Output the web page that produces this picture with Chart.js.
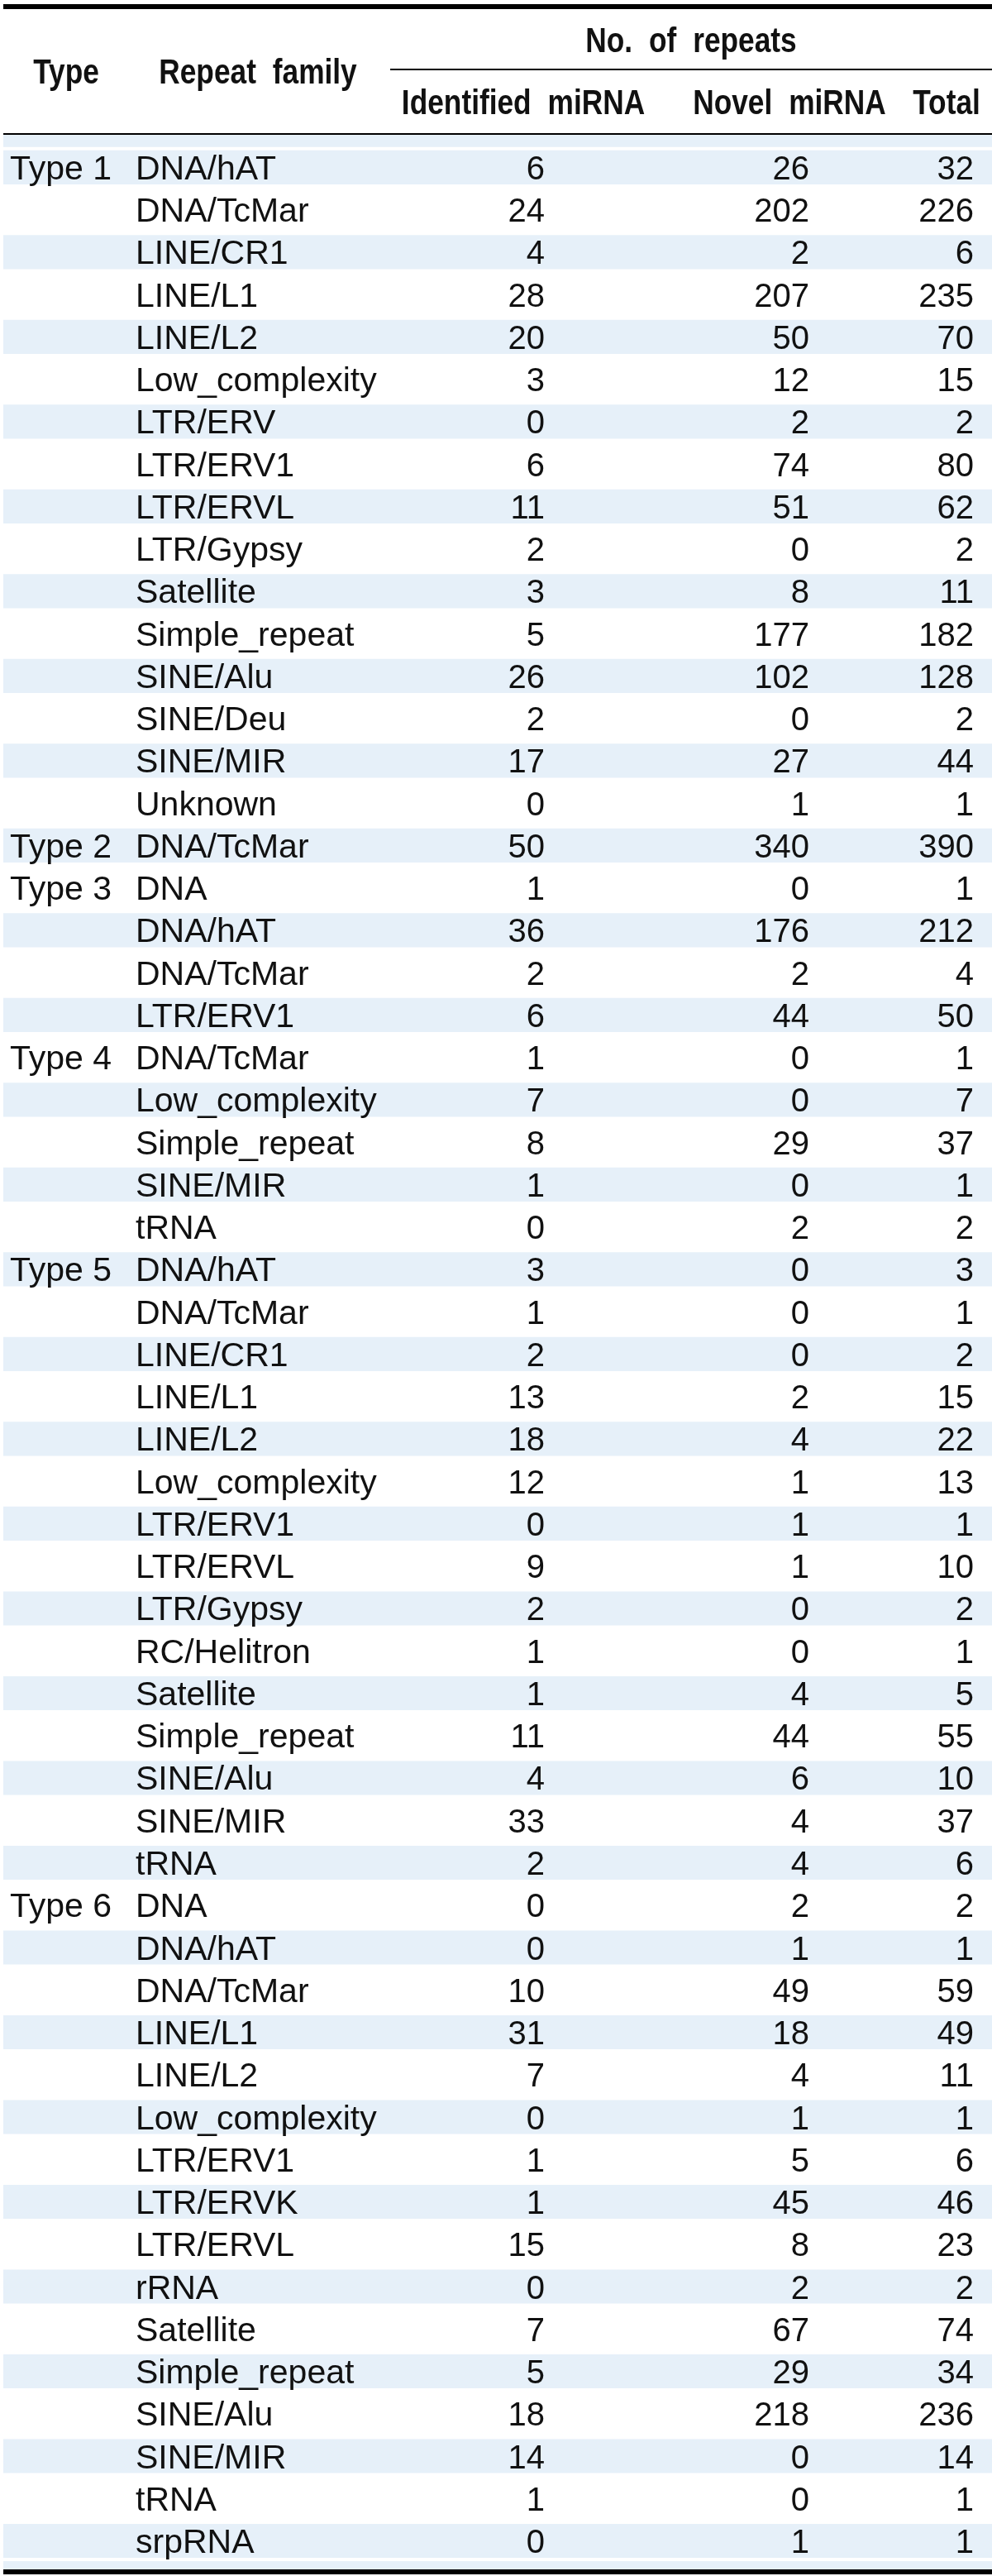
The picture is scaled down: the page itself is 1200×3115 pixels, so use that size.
<!DOCTYPE html>
<html><head><meta charset="utf-8">
<script src="https://cdn.jsdelivr.net/npm/chart.js@4.4.1/dist/chart.umd.min.js"></script>
<style>html,body{margin:0;padding:0;background:#fff;}canvas{display:block;}</style>
</head><body>
<canvas id="c" width="1200" height="3115"></canvas>
<script>
// ---------- data ----------
const rowType = ["Type 1","","","","","","","","","","","","","","","",
  "Type 2",
  "Type 3","","","",
  "Type 4","","","","",
  "Type 5","","","","","","","","","","","","","","",
  "Type 6","","","","","","","","","","","","","","",""];
const families = ["DNA/hAT","DNA/TcMar","LINE/CR1","LINE/L1","LINE/L2","Low_complexity","LTR/ERV","LTR/ERV1","LTR/ERVL","LTR/Gypsy","Satellite","Simple_repeat","SINE/Alu","SINE/Deu","SINE/MIR","Unknown",
  "DNA/TcMar",
  "DNA","DNA/hAT","DNA/TcMar","LTR/ERV1",
  "DNA/TcMar","Low_complexity","Simple_repeat","SINE/MIR","tRNA",
  "DNA/hAT","DNA/TcMar","LINE/CR1","LINE/L1","LINE/L2","Low_complexity","LTR/ERV1","LTR/ERVL","LTR/Gypsy","RC/Helitron","Satellite","Simple_repeat","SINE/Alu","SINE/MIR","tRNA",
  "DNA","DNA/hAT","DNA/TcMar","LINE/L1","LINE/L2","Low_complexity","LTR/ERV1","LTR/ERVK","LTR/ERVL","rRNA","Satellite","Simple_repeat","SINE/Alu","SINE/MIR","tRNA","srpRNA"];
const identified = [6,24,4,28,20,3,0,6,11,2,3,5,26,2,17,0,
  50,
  1,36,2,6,
  1,7,8,1,0,
  3,1,2,13,18,12,0,9,2,1,1,11,4,33,2,
  0,0,10,31,7,0,1,1,15,0,7,5,18,14,1,0];
const novel = [26,202,2,207,50,12,2,74,51,0,8,177,102,0,27,1,
  340,
  0,176,2,44,
  0,0,29,0,2,
  0,0,0,2,4,1,1,1,0,0,4,44,6,4,4,
  2,1,49,18,4,1,5,45,8,2,67,29,218,0,0,1];
const totals = [32,226,6,235,70,15,2,80,62,2,11,182,128,2,44,1,
  390,
  1,212,4,50,
  1,7,37,1,2,
  3,1,2,15,22,13,1,10,2,1,5,55,10,37,6,
  2,1,59,49,11,1,6,46,23,2,74,34,236,14,1,1];
const leftHeaders = ["Type","Repeat family"];
const groupHeader = "No. of repeats";
const colHeaders = ["Identified miRNA","Novel miRNA","Total"];

// ---------- style / layout ----------
const BAND = "#e6f0f9";
const INK = "#111";
const LABEL_FONT = "41px 'Liberation Sans', Arial, sans-serif";
const NUM_FONT = "40px 'Liberation Sans', Arial, sans-serif";
const HEAD_FONT = "bold 42px 'Liberation Sans', Arial, sans-serif";
const HEAD_SQUEEZE = 0.84;
const X_MIN = 4, X_MAX = 1200;
const COL = { type: 12, family: 164, numRight: [659, 979, 1178] };
const HEAD_X = { type: 80, family: 312, groupFrom: 472, cols: [633, 955, 1145] };
const PAD_TOP_ROWS = 0.288, PAD_BOTTOM_ROWS = 0.175;

function drawHead(ctx, text, cx, baseline) {
  ctx.save();
  ctx.font = HEAD_FONT;
  if ('wordSpacing' in ctx) ctx.wordSpacing = '12px';
  ctx.textAlign = 'center';
  ctx.textBaseline = 'alphabetic';
  ctx.translate(cx, baseline);
  ctx.scale(HEAD_SQUEEZE, 1);
  ctx.fillText(text, 0, 0);
  ctx.restore();
}

const tablePlugin = {
  id: 'tablePlugin',
  beforeDatasetsDraw(chart) {
    const ctx = chart.ctx, ys = chart.scales.y, xs = chart.scales.x, a = chart.chartArea;
    const n = families.length;
    ctx.save();
    ctx.fillStyle = BAND;
    const l = xs.getPixelForValue(X_MIN), r = xs.getPixelForValue(X_MAX);
    // first and last banded rows reach the rules
    const t0 = ys.getPixelForValue(-0.5);
    ctx.fillRect(l, a.top, r - l, t0 - a.top + 1);
    if ((n - 1) % 2 === 0) {
      const bl = ys.getPixelForValue(n - 1 + 0.5);
      ctx.fillRect(l, bl - 1, r - l, a.bottom - bl + 1);
    }
    ctx.restore();
  },
  afterDatasetsDraw(chart) {
    const ctx = chart.ctx, ys = chart.scales.y, xs = chart.scales.x, a = chart.chartArea;
    const l = xs.getPixelForValue(X_MIN), r = xs.getPixelForValue(X_MAX);
    ctx.save();
    // rules
    ctx.fillStyle = "#000";
    ctx.fillRect(l, 5, r - l, 6);
    const gx = xs.getPixelForValue(HEAD_X.groupFrom);
    ctx.fillRect(gx, 83, r - gx, 2);
    ctx.fillRect(l, a.top - 1, r - l, 2);
    ctx.fillRect(l, a.bottom, r - l, 6);
    // headers
    ctx.fillStyle = INK;
    drawHead(ctx, leftHeaders[0], xs.getPixelForValue(HEAD_X.type), 101);
    drawHead(ctx, leftHeaders[1], xs.getPixelForValue(HEAD_X.family), 101);
    drawHead(ctx, groupHeader, (gx + r) / 2, 63);
    colHeaders.forEach((h, k) => drawHead(ctx, h, xs.getPixelForValue(HEAD_X.cols[k]), 138));
    // body
    ctx.textBaseline = 'alphabetic';
    const cols = [identified, novel, totals];
    families.forEach((f, i) => {
      const base = ys.getPixelForValue(i) + 14.6;
      ctx.font = LABEL_FONT;
      ctx.textAlign = 'left';
      if (rowType[i]) ctx.fillText(rowType[i], xs.getPixelForValue(COL.type), base);
      ctx.fillText(f, xs.getPixelForValue(COL.family), base);
      ctx.font = NUM_FONT;
      ctx.textAlign = 'right';
      cols.forEach((arr, k) => ctx.fillText(String(arr[i]), xs.getPixelForValue(COL.numRight[k]), base));
    });
    ctx.restore();
  }
};

const n = families.length;
new Chart(document.getElementById('c'), {
  type: 'bar',
  data: {
    datasets: [{
      data: families.map((f, i) => ({ y: i, x: [X_MIN, X_MAX] })),
      backgroundColor: c => (c.dataIndex % 2 === 0 ? BAND : 'rgba(0,0,0,0)'),
      borderWidth: 0,
      barPercentage: 1,
      categoryPercentage: 1
    }]
  },
  options: {
    indexAxis: 'y',
    responsive: false,
    devicePixelRatio: 1,
    animation: false,
    layout: { padding: { top: 162, bottom: 8, left: 4, right: 0 } },
    plugins: { legend: { display: false }, tooltip: { enabled: false } },
    scales: {
      x: { type: 'linear', min: X_MIN, max: X_MAX, offset: false, display: false },
      y: { type: 'linear', reverse: true, offset: false, min: -0.5 - PAD_TOP_ROWS, max: n - 0.5 + PAD_BOTTOM_ROWS, display: false }
    }
  },
  plugins: [tablePlugin]
});
</script>
</body></html>
